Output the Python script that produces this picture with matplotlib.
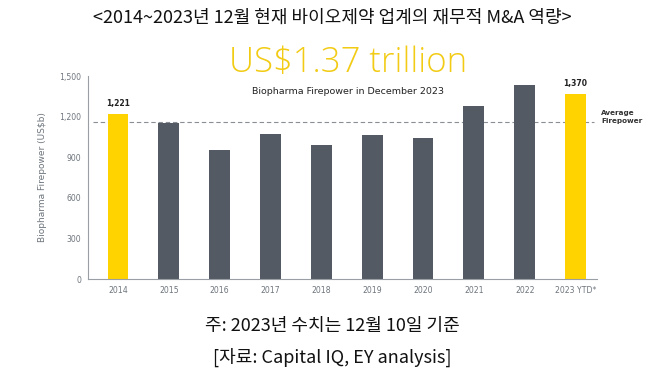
import matplotlib
matplotlib.use("Agg")
import matplotlib.pyplot as plt
import numpy as np

years = ["2014", "2015", "2016", "2017", "2018", "2019", "2020", "2021", "2022", "2023 YTD*"]
firepower = [1221, 1150, 950, 1068, 988, 1066, 1041, 1278, 1430, 1370]
highlight = [True, False, False, False, False, False, False, False, False, True]
avg_firepower = 1160
yticks = [0, 300, 600, 900, 1200, 1500]

title = "<2014~2023년 12월 현재 바이오제약 업계의 재무적 M&A 역량>"
note1 = "주: 2023년 수치는 12월 10일 기준"
note2 = "[자료: Capital IQ, EY analysis]"

YELLOW = "#FFD300"
GRAY = "#535A63"
TXT = "#6E757D"

fig = plt.figure(figsize=(6.64, 3.87), dpi=100)
ax = fig.add_axes([0.1325, 0.279, 0.7665, 0.5246])

x = np.arange(len(years))
colors = [YELLOW if h else GRAY for h in highlight]
ax.bar(x, firepower, width=0.41, color=colors, zorder=2)

ax.set_xlim(-0.59, 9.42)
ax.set_ylim(0, 1500)
ax.set_yticks(yticks)
ax.set_yticklabels([f"{v:,}" for v in yticks])
ax.set_xticks(x)
ax.set_xticklabels(years)
ax.tick_params(axis="both", length=0, labelsize=5.6, labelcolor=TXT, pad=5)
for s in ["top", "right"]:
    ax.spines[s].set_visible(False)
for s in ["left", "bottom"]:
    ax.spines[s].set_color("#9A9FA5")
    ax.spines[s].set_linewidth(0.8)
ax.set_ylabel("Biopharma Firepower (US$b)", fontsize=6.5, color=TXT, labelpad=9)

ax.axhline(avg_firepower, xmin=0.01, xmax=0.995, color="#8A8F95", lw=0.8, ls=(0, (4, 2.5)), zorder=1)
ax.text(1.008, (avg_firepower + 40) / 1500, "Average\nFirepower", transform=ax.transAxes,
        fontsize=5.2, color="#333333", fontweight="semibold", va="center", ha="left", linespacing=1.4)

for i, (v, h) in enumerate(zip(firepower, highlight)):
    if h:
        ax.text(i, v + 45, f"{v:,}", ha="center", va="bottom", fontsize=5.5,
                color="#222222", fontweight="semibold")

fig.text(0.524, 0.838, "US$1.37 trillion", ha="center", va="center", fontsize=25,
         color="#F2CB14", family="Open Sans", fontweight="light")
fig.text(0.524, 0.764, "Biopharma Firepower in December 2023", ha="center", va="center",
         fontsize=6.8, color="#222222")

fig.text(0.5, 0.955, title, ha="center", va="center", fontsize=13,
         family=["Noto Sans CJK KR", "DejaVu Sans"], color="#111111")
fig.text(0.5, 0.158, note1, ha="center", va="center", fontsize=13,
         family=["Noto Sans CJK KR", "DejaVu Sans"], color="#111111")
fig.text(0.5, 0.077, note2, ha="center", va="center", fontsize=13,
         family=["Noto Sans CJK KR", "DejaVu Sans"], color="#111111")

fig.savefig("out.png", dpi=100)
